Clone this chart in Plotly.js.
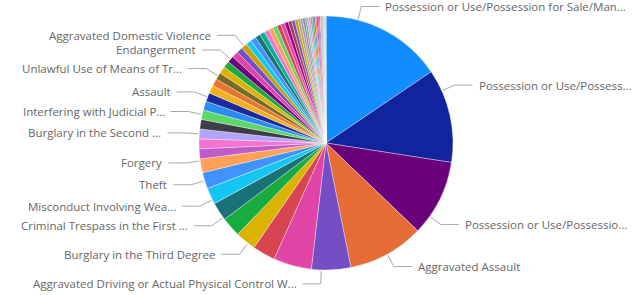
<!DOCTYPE html>
<html><head><meta charset="utf-8">
<script src="https://cdn.plot.ly/plotly-3.0.1.min.js"></script>
<style>html,body{margin:0;padding:0;background:#fff}#chart{width:634px;height:295px}</style>
</head><body><div id="chart"></div>
<script>
// ---- data ----
const categories = [
  "Possession or Use/Possession for Sale/Manufacture of Dangerous Drugs",
  "Possession or Use/Possession of Drug Paraphernalia",
  "Possession or Use/Possession for Sale of Marijuana",
  "Aggravated Assault",
  "Aggravated Driving or Actual Physical Control While Under the Influence",
  "Shoplifting",
  "Criminal Damage",
  "Burglary in the Third Degree",
  "Fraudulent Schemes and Artifices",
  "Criminal Trespass in the First Degree",
  "Misconduct Involving Weapons",
  "Theft",
  "Forgery",
  "Theft of Means of Transportation",
  "Trafficking in Stolen Property",
  "Burglary in the Second Degree",
  "Resisting Arrest",
  "Interfering with Judicial Proceedings",
  "Disorderly Conduct",
  "Assault",
  "Unlawful Flight from Law Enforcement Vehicle",
  "Identity Theft",
  "Unlawful Use of Means of Transportation",
  "Taking Identity of Another",
  "Robbery",
  "Endangerment",
  "Armed Robbery",
  "Possession of Burglary Tools",
  "Aggravated Domestic Violence",
  "Prohibited Possessor",
  "Kidnapping",
  "Sexual Conduct with a Minor",
  "Sexual Assault",
  "Child Abuse",
  "Leaving the Scene of Accident",
  "Failure to Register as Sex Offender",
  "Criminal Trespass in the Second Degree",
  "Promoting Prison Contraband",
  "Escape",
  "Arson",
  "Computer Tampering",
  "Credit Card Fraud",
  "Tampering with Physical Evidence",
  "False Reporting",
  "Threatening or Intimidating",
  "Stalking",
  "Aggravated Harassment",
  "Unlawful Imprisonment",
  "Burglary in the First Degree",
  "Manslaughter",
  "Second Degree Murder",
  "First Degree Murder",
  "Negligent Homicide",
  "Luring a Minor",
  "Public Sexual Indecency",
  "Indecent Exposure",
  "Money Laundering",
  "Conspiracy",
  "Solicitation",
  "Facilitation",
  "Obstructing Criminal Investigations",
  "Hindering Prosecution",
  "Custodial Interference",
  "Cruelty to Animals",
  "Criminal Impersonation",
  "Smuggling"
];
const counts = [
  560, 430, 350, 350, 180, 175, 105, 95, 90, 85, 75, 75,
  63, 46, 45, 45, 44, 43, 42, 40, 36, 34, 33, 32, 31, 30, 29, 28, 27,
  26, 25, 24, 23, 22, 21, 20, 19, 18, 17, 16, 15,
  13, 12, 11, 10, 9, 9, 8, 8, 7, 7, 6, 6, 5, 5, 4, 4, 3, 3, 3, 2, 2, 2, 2, 1, 1
];
// displayed (truncated) data labels; slices not listed have no visible label
const labelTexts = {
  0: "Possession or Use/Possession for Sale/Man...",
  1: "Possession or Use/Possess...",
  2: "Possession or Use/Possessio...",
  3: "Aggravated Assault",
  4: "Aggravated Driving or Actual Physical Control W...",
  7: "Burglary in the Third Degree",
  9: "Criminal Trespass in the First ...",
  10: "Misconduct Involving Wea...",
  11: "Theft",
  12: "Forgery",
  15: "Burglary in the Second ...",
  17: "Interfering with Judicial P...",
  19: "Assault",
  22: "Unlawful Use of Means of Tr...",
  25: "Endangerment",
  28: "Aggravated Domestic Violence"
};

// ---- styles ----
const sliceColors = [
  "#118DFF","#12239E","#6B007B","#E66C37","#744EC2","#E044A7","#D64550","#D9B300","#1AAB40","#197278","#15C6F4","#4092FF",
  "#FFA058","#BE5DC9","#F472D0","#B5A1FF","#3D3D45","#5BD667","#2D8CF0","#1B2A9E","#F2B01E","#E8772E","#7A6A24","#D9B300","#1AAB40","#6B007B","#E044A7","#744EC2","#C4A200",
  "#15C6F4","#4092FF","#197278","#00B38F","#F472D0","#FFA058","#5BD667","#D64550","#E044A7","#99008A","#A63A4A","#744EC2",
  "#C4A200","#B0A080","#9E9E9E","#8B7FA8","#6FA86F","#B5A1FF","#FF8080","#00DBBC","#99700A","#4668C5","#FF6300","#99008A","#EC008C","#533285","#C8B46E","#1F9A85","#255A91","#8C8C8C","#A0A060","#707070","#BDB76B","#6E6E6E","#909090","#5A5A5A","#808080"
];
// where along a slice its leader line starts (fraction of the slice; default = middle)
const leaderAnchor = {0: 0.26, 1: 0.23, 2: 0.76, 4: 0.75, 7: 0.35, 9: 0.12, 10: 0.25, 12: 0.85};

const W = 634, H = 295;
const CX = 326, CY = 143, R = 127;
const LABEL_R = 141, ELBOW_R = 141, SEG = 18, GAP = 4, MIN_GAP = 14;
const FONT = {family: "'Segoe UI', 'Open Sans', sans-serif", size: 11.5, color: "#666666"};

const trace = {
  type: "pie",
  labels: categories,
  values: counts,
  sort: false,
  direction: "clockwise",
  rotation: 0,
  textinfo: "none",
  hoverinfo: "label+value+percent",
  marker: {colors: sliceColors, line: {color: "rgba(255,255,255,0.7)", width: 0.5}},
  domain: {x: [(CX - R) / W, (CX + R) / W], y: [(H - CY - R) / H, (H - CY + R) / H]},
  showlegend: false
};

// leader lines and labels computed from the slice geometry
const total = counts.reduce((a, b) => a + b, 0);
let cum = 0;
const labels = [];
counts.forEach((v, i) => {
  const start = cum / total * 360;
  cum += v;
  const end = cum / total * 360;
  if (labelTexts[i] === undefined) return;
  const f = leaderAnchor[i] !== undefined ? leaderAnchor[i] : 0.5;
  const th = (start + (end - start) * f) * Math.PI / 180;
  const side = Math.sin(th) >= 0 ? 1 : -1;
  labels.push({i, th, side, y: CY - LABEL_R * Math.cos(th)});
});
[1, -1].forEach(s => {
  const arr = labels.filter(l => l.side === s).sort((a, b) => a.y - b.y);
  for (let k = 1; k < arr.length; k++) {
    if (arr[k].y < arr[k - 1].y + MIN_GAP) arr[k].y = arr[k - 1].y + MIN_GAP;
  }
});
const fx = x => x / W, fy = y => 1 - y / H;
const shapes = [], annotations = [];
labels.forEach(l => {
  const p0x = CX + (R + 1) * Math.sin(l.th), p0y = CY - (R + 1) * Math.cos(l.th);
  const dy = l.y - CY;
  let ex = CX + l.side * Math.sqrt(Math.max(ELBOW_R * ELBOW_R - dy * dy, 0));
  if (l.side * (ex - p0x) < 0) ex = p0x;
  const hx = ex + l.side * SEG;
  shapes.push({type: "path", xref: "paper", yref: "paper",
    path: `M ${fx(p0x)},${fy(p0y)} L ${fx(ex)},${fy(l.y)} L ${fx(hx)},${fy(l.y)}`,
    line: {color: "#a8a8a8", width: 1}});
  annotations.push({xref: "paper", yref: "paper", x: fx(hx + l.side * GAP), y: fy(l.y),
    xanchor: l.side > 0 ? "left" : "right", yanchor: "middle", showarrow: false,
    text: labelTexts[l.i], font: FONT});
});

Plotly.newPlot("chart", [trace], {
  width: W, height: H,
  margin: {l: 0, r: 0, t: 0, b: 0},
  paper_bgcolor: "#ffffff",
  shapes, annotations
}, {displayModeBar: false, staticPlot: true});
</script>
</body></html>
